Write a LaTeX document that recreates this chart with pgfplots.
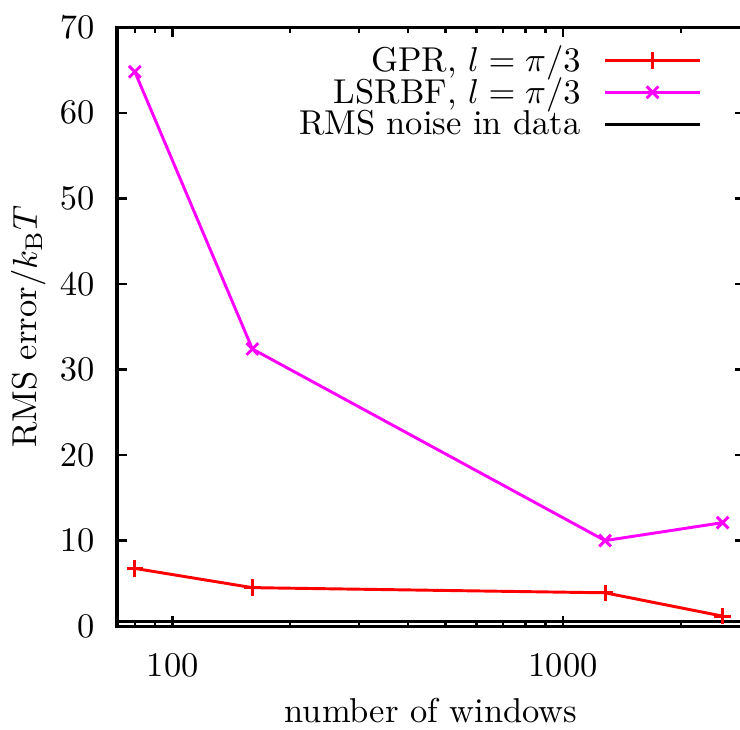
\documentclass[border=0pt]{standalone}
\usepackage{pgfplots}
\pgfplotsset{compat=1.18}
\definecolor{gpred}{RGB}{255,0,0}
\definecolor{lsmag}{RGB}{255,0,255}
\newcommand{\lrow}[1]{\smash{#1}\rule[-2.8pt]{0pt}{10.5pt}}
\begin{document}
\begin{tikzpicture}
\begin{axis}[
  scale only axis, width=182pt, height=173.6pt,
  xmode=log, xmin=72, xmax=2918, ymin=0, ymax=70,
  xtick={100,1000}, xticklabels={100,1000},
  minor xtick={80,90,200,300,400,500,600,700,800,900,2000},
  ytick={0,10,20,30,40,50,60,70},
  tick align=inside, major tick length=2.9pt, minor tick length=1.6pt,
  axis line style={line width=0.9pt},
  every tick/.style={black, line width=0.7pt},
  x tick label style={yshift=-4.5pt},
  y tick label style={xshift=-3pt},
  xlabel={number of windows},
  ylabel={RMS error$/k_\mathrm{B}T$},
  xlabel style={at={(axis description cs:0.5,0)}, anchor=base, yshift=-27.8pt},
  ylabel style={at={(axis description cs:0,0.5)}, anchor=base, yshift=23.2pt},
  legend plot pos=right,
  legend cell align=right,
  legend style={draw=none, fill=none, inner sep=0pt, at={(axis description cs:0.932,0.972)}, anchor=north east,
    row sep=0pt,
    nodes={inner sep=0pt},
    /tikz/every odd column/.style={column sep=6.7pt}},
  legend image code/.code={\draw[#1] (0pt,0pt) -- (27.5pt,0pt);
    \draw[#1, overlay] plot[only marks] coordinates {(13.75pt,0pt)};},
  every axis plot/.append style={line width=0.85pt},
  every mark/.append style={solid},
]
\addplot[color=gpred, mark=+, mark size=2.4pt] coordinates {
  (80,6.75) (160,4.5) (1280,3.9) (2560,1.17)
};
\addlegendentry{\lrow{GPR, $l=\pi/3$}}
\addplot[color=lsmag, mark=x, mark size=2.4pt] coordinates {
  (80,64.8) (160,32.4) (1280,10.0) (2560,12.1)
};
\addlegendentry{\lrow{LSRBF, $l=\pi/3$}}
\addplot[color=black, mark=none] coordinates {
  (72,0.5) (2918,0.5)
};
\addlegendentry{\lrow{RMS noise in data}}
\end{axis}
\pgfresetboundingbox
\path (current axis.south west) ++(-33.9pt,-30.1pt) rectangle ++(214.5pt,211.6pt);
\end{tikzpicture}
\end{document}
